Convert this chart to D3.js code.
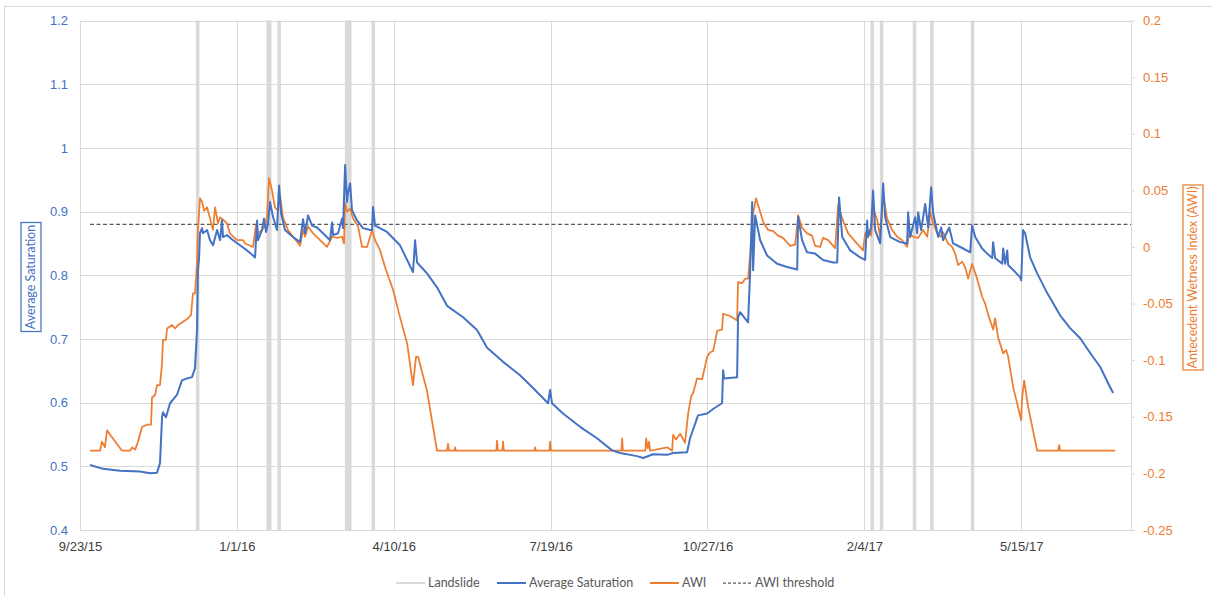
<!DOCTYPE html>
<html>
<head>
<meta charset="utf-8">
<script src="https://cdn.jsdelivr.net/npm/d3@7"></script>
<style>
  body { margin: 0; background: #fff; }
  svg { font-family: Lato, "Open Sans", sans-serif; }
</style>
</head>
<body>
<svg id="chart" width="1212" height="596"></svg>
<script>
// day offsets counted from 9/23/2015
const startDate = new Date(2015, 8, 23);
const endDay = 670;
const tickDays = [0, 100, 200, 300, 400, 500, 600];
const satTicks = [0.4, 0.5, 0.6, 0.7, 0.8, 0.9, 1.0, 1.1, 1.2];
const awiTicks = [-0.25, -0.2, -0.15, -0.1, -0.05, 0, 0.05, 0.1, 0.15, 0.2];
const awiThreshold = 0.02;

const landslides = ['2015-12-07', '2016-01-21', '2016-01-22', '2016-01-28', '2016-03-11', '2016-03-12',
  '2016-03-13', '2016-03-28', '2017-02-09', '2017-02-15', '2017-03-08', '2017-03-19', '2017-04-14'];

// [day, average saturation]
const saturation = [
  [6.4, 0.502], [14.7, 0.496], [25.5, 0.493], [38.3, 0.492], [44.6, 0.489], [49.1, 0.490], [51.0, 0.505],
  [52.3, 0.577], [52.9, 0.585], [54.8, 0.577], [57.4, 0.599], [61.8, 0.612], [65.0, 0.635], [68.2, 0.638],
  [71.4, 0.640], [73.3, 0.654], [74.6, 0.714], [75.2, 0.808], [75.9, 0.827], [76.5, 0.866], [77.8, 0.874],
  [78.4, 0.866], [81.0, 0.871], [82.9, 0.855], [84.8, 0.847], [87.4, 0.871], [89.3, 0.855], [90.5, 0.886],
  [91.2, 0.860], [93.7, 0.863], [97.6, 0.855], [102.0, 0.847], [106.5, 0.839], [110.3, 0.831], [111.6, 0.828],
  [112.9, 0.886], [113.5, 0.855], [116.0, 0.871], [117.3, 0.889], [118.6, 0.868], [119.9, 0.882], [121.1, 0.915],
  [123.1, 0.891], [125.6, 0.871], [126.9, 0.941], [128.2, 0.897], [130.7, 0.871], [135.8, 0.860], [140.3, 0.852],
  [142.2, 0.888], [143.5, 0.866], [145.4, 0.894], [147.9, 0.878], [151.1, 0.875], [154.9, 0.866], [159.4, 0.855],
  [160.7, 0.883], [161.3, 0.863], [164.5, 0.866], [167.1, 0.889], [167.7, 0.874], [169.0, 0.973], [170.2, 0.915],
  [170.9, 0.930], [172.2, 0.944], [173.4, 0.902], [176.6, 0.886], [180.4, 0.874], [184.9, 0.871], [186.2, 0.871],
  [186.8, 0.907], [188.1, 0.878], [195.7, 0.868], [204.0, 0.847], [212.3, 0.805], [213.6, 0.855], [214.9, 0.820],
  [221.2, 0.803], [227.6, 0.781], [234.0, 0.752], [244.2, 0.734], [253.1, 0.714], [259.5, 0.686], [269.7, 0.664],
  [280.5, 0.643], [288.8, 0.623], [298.4, 0.599], [299.7, 0.620], [300.9, 0.599], [307.9, 0.583], [318.8, 0.562],
  [329.6, 0.544], [339.2, 0.525], [344.3, 0.521], [355.1, 0.516], [359.0, 0.513], [365.3, 0.519], [374.3, 0.518],
  [378.1, 0.521], [387.0, 0.522], [388.9, 0.544], [394.0, 0.580], [399.8, 0.583], [403.6, 0.590], [409.3, 0.599],
  [410.0, 0.651], [410.6, 0.638], [418.9, 0.640], [419.5, 0.734], [420.8, 0.742], [425.9, 0.726], [427.2, 0.805],
  [428.5, 0.915], [429.1, 0.808], [430.4, 0.894], [433.6, 0.855], [438.0, 0.831], [444.4, 0.818], [450.8, 0.813],
  [457.2, 0.809], [457.8, 0.892], [460.3, 0.855], [463.5, 0.836], [468.6, 0.834], [473.7, 0.824], [480.1, 0.820],
  [482.7, 0.820], [483.9, 0.922], [485.9, 0.860], [491.0, 0.839], [497.3, 0.828], [500.5, 0.824], [501.8, 0.886],
  [502.4, 0.860], [504.3, 0.875], [505.6, 0.933], [506.9, 0.871], [510.1, 0.850], [512.0, 0.944], [513.3, 0.891],
  [516.5, 0.860], [522.8, 0.852], [527.3, 0.850], [527.9, 0.899], [529.2, 0.860], [532.4, 0.891], [533.7, 0.866],
  [534.3, 0.899], [536.2, 0.871], [538.8, 0.912], [540.7, 0.875], [542.6, 0.938], [543.9, 0.897], [547.1, 0.860],
  [549.0, 0.875], [550.2, 0.855], [554.1, 0.875], [556.6, 0.850], [563.0, 0.842], [567.5, 0.836], [568.7, 0.878],
  [570.7, 0.860], [575.1, 0.842], [578.3, 0.834], [581.5, 0.827], [582.1, 0.852], [583.4, 0.827], [587.9, 0.818],
  [588.5, 0.842], [589.8, 0.818], [591.1, 0.839], [591.7, 0.816], [596.2, 0.805], [599.3, 0.797], [600.0, 0.792],
  [601.2, 0.871], [602.5, 0.866], [605.7, 0.828], [610.2, 0.803], [616.6, 0.772], [624.8, 0.737], [631.2, 0.717],
  [637.6, 0.701], [644.0, 0.678], [650.4, 0.656], [655.5, 0.630], [658.6, 0.615]
];

// [day, antecedent wetness index]
const awi = [
  [6.4, -0.180], [12.8, -0.180], [14.0, -0.172], [15.9, -0.177], [17.2, -0.162], [20.4, -0.168], [26.8, -0.180],
  [31.9, -0.180], [33.2, -0.177], [35.1, -0.179], [37.0, -0.172], [39.5, -0.159], [42.7, -0.157], [45.3, -0.157],
  [45.9, -0.133], [47.8, -0.131], [49.1, -0.122], [51.0, -0.122], [52.3, -0.103], [52.9, -0.082], [54.8, -0.082],
  [55.5, -0.072], [58.7, -0.069], [60.6, -0.072], [62.5, -0.069], [65.7, -0.066], [68.9, -0.063], [70.8, -0.060],
  [72.0, -0.041], [73.3, -0.041], [74.6, -0.014], [75.2, 0.015], [76.5, 0.043], [77.8, 0.040], [79.1, 0.032],
  [81.0, 0.035], [82.9, 0.025], [84.8, 0.015], [86.1, 0.035], [88.0, 0.021], [89.3, 0.026], [91.2, 0.024],
  [93.7, 0.021], [95.6, 0.012], [100.1, 0.006], [103.9, 0.006], [105.2, 0.003], [110.3, 0.000], [112.2, 0.019],
  [113.5, 0.012], [116.0, 0.015], [118.0, 0.019], [119.2, 0.026], [120.5, 0.061], [122.4, 0.050], [124.3, 0.035],
  [126.2, 0.032], [127.5, 0.046], [129.4, 0.026], [132.6, 0.015], [135.8, 0.009], [140.3, 0.001], [142.2, 0.015],
  [143.5, 0.009], [145.4, 0.018], [148.6, 0.012], [153.0, 0.006], [157.5, 0.000], [160.7, 0.009], [163.9, 0.008],
  [167.1, 0.009], [168.3, 0.003], [169.0, 0.039], [170.2, 0.031], [172.2, 0.034], [174.1, 0.025], [177.3, 0.018],
  [179.8, 0.000], [183.0, 0.000], [186.2, 0.015], [188.1, 0.006], [191.3, -0.003], [194.5, -0.018], [199.6, -0.038],
  [204.0, -0.062], [208.5, -0.085], [212.3, -0.122], [214.2, -0.097], [215.5, -0.097], [221.2, -0.127],
  [227.6, -0.180], [234.0, -0.180], [234.6, -0.174], [235.2, -0.180], [238.6, -0.180], [239.1, -0.177],
  [239.6, -0.180], [265.4, -0.180], [265.9, -0.171], [266.4, -0.180], [269.2, -0.180], [269.7, -0.172],
  [270.2, -0.180], [289.6, -0.180], [290.1, -0.177], [290.6, -0.180], [299.2, -0.180], [299.7, -0.172],
  [300.2, -0.180], [345.1, -0.180], [345.6, -0.169], [346.1, -0.180], [360.4, -0.180], [360.9, -0.169],
  [361.9, -0.178], [362.8, -0.172], [363.4, -0.180], [374.3, -0.177], [377.5, -0.180], [378.1, -0.166],
  [380.0, -0.170], [382.6, -0.165], [385.7, -0.173], [387.7, -0.147], [389.6, -0.132], [390.9, -0.129],
  [393.4, -0.116], [396.6, -0.117], [399.8, -0.097], [401.7, -0.093], [403.6, -0.092], [406.2, -0.074],
  [409.3, -0.073], [410.0, -0.059], [414.4, -0.061], [418.9, -0.065], [419.5, -0.031], [422.1, -0.032],
  [424.0, -0.028], [425.9, -0.028], [427.2, -0.007], [428.5, 0.018], [429.1, 0.030], [431.0, 0.043], [432.3, 0.037],
  [435.5, 0.022], [438.7, 0.015], [441.9, 0.014], [445.0, 0.010], [448.2, 0.008], [452.7, 0.001], [455.9, 0.002],
  [457.8, 0.028], [460.3, 0.017], [463.5, 0.012], [466.7, 0.010], [468.6, 0.001], [471.8, 0.000], [473.7, 0.008],
  [476.9, 0.006], [481.4, -0.001], [483.3, 0.037], [485.9, 0.025], [489.7, 0.012], [495.4, 0.003], [499.2, -0.003],
  [500.5, 0.012], [502.4, 0.014], [504.3, 0.010], [505.6, 0.034], [508.2, 0.024], [510.1, 0.009], [512.0, 0.046],
  [514.5, 0.025], [517.7, 0.015], [520.9, 0.009], [524.1, 0.006], [527.3, 0.000], [528.6, 0.012], [531.1, 0.009],
  [534.3, 0.008], [537.5, 0.015], [540.1, 0.009], [542.0, 0.031], [543.9, 0.021], [546.4, 0.012], [549.0, 0.009],
  [550.2, 0.013], [553.4, 0.003], [556.0, 0.000], [557.9, -0.006], [559.8, -0.016], [562.4, -0.013], [564.3, -0.018],
  [566.2, -0.028], [568.7, -0.015], [571.9, -0.028], [575.1, -0.044], [577.0, -0.050], [579.0, -0.060],
  [582.1, -0.073], [583.4, -0.063], [585.3, -0.080], [588.5, -0.094], [590.4, -0.091], [591.7, -0.097],
  [594.9, -0.124], [598.1, -0.142], [600.0, -0.153], [600.6, -0.133], [601.9, -0.118], [604.4, -0.141],
  [610.2, -0.180], [623.6, -0.180], [624.2, -0.175], [624.8, -0.180], [659.9, -0.180]
];

const blue = '#4472C4', orange = '#ED7D31', grid = '#D9D9D9', slideGray = '#D9D9D9', dashGray = '#595959';
const dayToDate = d => new Date(startDate.getTime() + d * 864e5);

const svg = d3.select('#chart');
const plotLeft = 80, plotRight = 1131, plotTop = 20.5, plotBottom = 530;

const x = d3.scaleTime().domain([dayToDate(0), dayToDate(endDay)]).range([plotLeft, plotRight]);
const ySat = d3.scaleLinear().domain([0.4, 1.2]).range([plotBottom, plotTop]);
const yAwi = d3.scaleLinear().domain([-0.25, 0.2]).range([plotBottom, plotTop]);
const numFmt = d => String(+d.toFixed(2));

// chart border
svg.append('rect').attr('x', 4.5).attr('y', 6.5).attr('width', 1230).attr('height', 620)
  .attr('fill', 'none').attr('stroke', '#D9D9D9');

// gridlines
svg.append('g').selectAll('line').data(satTicks).join('line')
  .attr('x1', plotLeft).attr('x2', plotRight)
  .attr('y1', d => Math.round(ySat(d)) + 0.5).attr('y2', d => Math.round(ySat(d)) + 0.5)
  .attr('stroke', grid);
svg.append('g').selectAll('line').data(tickDays).join('line')
  .attr('x1', d => Math.round(x(dayToDate(d))) + 0.5).attr('x2', d => Math.round(x(dayToDate(d))) + 0.5)
  .attr('y1', plotTop).attr('y2', plotBottom)
  .attr('stroke', grid);

// landslide bars
const parseDay = d3.timeParse('%Y-%m-%d');
svg.append('g').selectAll('rect').data(landslides).join('rect')
  .attr('x', d => x(parseDay(d)) - 1.75).attr('width', 3.5)
  .attr('y', plotTop).attr('height', plotBottom - plotTop)
  .attr('fill', slideGray);

// axes
const xAxis = svg.append('g').attr('transform', `translate(0,${plotBottom})`)
  .call(d3.axisBottom(x).tickValues(tickDays.map(dayToDate)).tickFormat(d3.timeFormat('%-m/%-d/%y')).tickSize(0).tickPadding(12));
xAxis.select('.domain').attr('stroke', grid);
xAxis.selectAll('text').attr('fill', '#404040').style('font-size', '13px');

const lAxis = svg.append('g').attr('transform', `translate(${plotLeft},0)`)
  .call(d3.axisLeft(ySat).tickValues(satTicks).tickFormat(numFmt).tickSize(0).tickPadding(12));
lAxis.select('.domain').remove();
lAxis.selectAll('text').attr('fill', blue).style('font-size', '13px');

const rAxis = svg.append('g').attr('transform', `translate(${plotRight},0)`)
  .call(d3.axisRight(yAwi).tickValues(awiTicks).tickFormat(numFmt).tickSizeInner(4).tickSizeOuter(0).tickPadding(8));
rAxis.selectAll('.domain, line').attr('stroke', grid);
rAxis.selectAll('text').attr('fill', orange).style('font-size', '13px');

// threshold
svg.append('line')
  .attr('x1', x(dayToDate(6.4))).attr('x2', plotRight)
  .attr('y1', yAwi(awiThreshold)).attr('y2', yAwi(awiThreshold))
  .attr('stroke', dashGray).attr('stroke-width', 1.25).attr('stroke-dasharray', '4,2.5');

// series
svg.append('path').datum(awi)
  .attr('d', d3.line().x(d => x(dayToDate(d[0]))).y(d => yAwi(d[1])))
  .attr('fill', 'none').attr('stroke', orange).attr('stroke-width', 1.75).attr('stroke-linejoin', 'round');
svg.append('path').datum(saturation)
  .attr('d', d3.line().x(d => x(dayToDate(d[0]))).y(d => ySat(d[1])))
  .attr('fill', 'none').attr('stroke', blue).attr('stroke-width', 2).attr('stroke-linejoin', 'round');

// axis titles in boxes
function boxedTitle(cx, cy, w, h, text, color) {
  const g = svg.append('g').attr('transform', `translate(${cx},${cy}) rotate(-90)`);
  g.append('rect').attr('x', -h / 2).attr('y', -w / 2).attr('width', h).attr('height', w)
    .attr('fill', '#fff').attr('stroke', color).attr('stroke-width', 1.25);
  g.append('text').attr('text-anchor', 'middle').attr('dy', '0.35em')
    .attr('fill', color).style('font-size', '12.5px').text(text);
}
boxedTitle(31, 277, 20, 109, 'Average Saturation', blue);
boxedTitle(1193, 277.5, 20, 185, 'Antecedent Wetness Index (AWI)', orange);

// legend
const legendItems = [
  { label: 'Landslide', color: slideGray, x: 396, dash: null, w: 2 },
  { label: 'Average Saturation', color: blue, x: 497, dash: null, w: 2 },
  { label: 'AWI', color: orange, x: 650, dash: null, w: 2 },
  { label: 'AWI threshold', color: dashGray, x: 723, dash: '3,2', w: 1.25 }
];
const lg = svg.append('g').attr('transform', 'translate(0,583)');
legendItems.forEach(it => {
  lg.append('line').attr('x1', it.x).attr('x2', it.x + 29).attr('y1', 0).attr('y2', 0)
    .attr('stroke', it.color).attr('stroke-width', it.w).attr('stroke-dasharray', it.dash);
  lg.append('text').attr('x', it.x + 32).attr('dy', '0.35em')
    .attr('fill', '#595959').style('font-size', '12.5px').text(it.label);
});
</script>
</body>
</html>
